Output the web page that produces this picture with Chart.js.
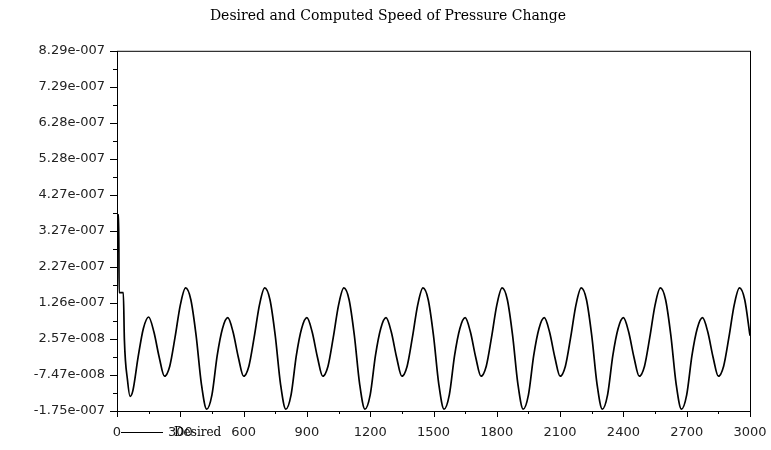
<!DOCTYPE html>
<html>
<head>
<meta charset="utf-8">
<script src="https://cdn.jsdelivr.net/npm/chart.js@4/dist/chart.umd.min.js"></script>
<style>
  html, body { margin: 0; padding: 0; background: #fff; }
  #wrap { width: 771px; height: 450px; }
</style>
</head>
<body>
<div id="wrap"><canvas id="speed-chart" width="771" height="450"></canvas></div>
<script>
// time samples
const timeValues = [
  0, 8, 10, 30, 35, 50, 62, 75,
  100, 125, 150, 175, 200, 225, 250, 275, 300,
  325, 350, 375, 400, 425, 450, 475, 500, 525, 550, 575, 600, 625, 650, 675,
  700, 725, 750, 775, 800, 825, 850, 875, 900, 925, 950, 975, 1000, 1025, 1050,
  1075, 1100, 1125, 1150, 1175, 1200, 1225, 1250, 1275, 1300, 1325, 1350, 1375, 1400, 1425,
  1450, 1475, 1500, 1525, 1550, 1575, 1600, 1625, 1650, 1675, 1700, 1725, 1750, 1775, 1800,
  1825, 1850, 1875, 1900, 1925, 1950, 1975, 2000, 2025, 2050, 2075, 2100, 2125, 2150, 2175,
  2200, 2225, 2250, 2275, 2300, 2325, 2350, 2375, 2400, 2425, 2450, 2475, 2500, 2525, 2550,
  2575, 2600, 2625, 2650, 2675, 2700, 2725, 2750, 2775, 2800, 2825, 2850, 2875, 2900, 2925,
  2950, 2975, 3000,
];

// desired speed, in units of 1e-7
const desiredE7 = [
  3.72, 3.72, 1.55, 1.55, 0.24, -0.90, -1.34, -1.19,
  -0.25, 0.55, 0.87, 0.45, -0.25, -0.78, -0.50, 0.30, 1.20,
  1.68, 1.35, 0.35, -1.00, -1.70, -1.30, -0.20, 0.55, 0.85, 0.45, -0.25, -0.78, -0.50, 0.30, 1.20,
  1.68, 1.35, 0.35, -1.00, -1.70, -1.30, -0.20, 0.55, 0.85, 0.45, -0.25, -0.78, -0.50, 0.30, 1.20,
  1.68, 1.35, 0.35, -1.00, -1.70, -1.30, -0.20, 0.55, 0.85, 0.45, -0.25, -0.78, -0.50, 0.30, 1.20,
  1.68, 1.35, 0.35, -1.00, -1.70, -1.30, -0.20, 0.55, 0.85, 0.45, -0.25, -0.78, -0.50, 0.30, 1.20,
  1.68, 1.35, 0.35, -1.00, -1.70, -1.30, -0.20, 0.55, 0.85, 0.45, -0.25, -0.78, -0.50, 0.30, 1.20,
  1.68, 1.35, 0.35, -1.00, -1.70, -1.30, -0.20, 0.55, 0.85, 0.45, -0.25, -0.78, -0.50, 0.30, 1.20,
  1.68, 1.35, 0.35, -1.00, -1.70, -1.30, -0.20, 0.55, 0.85, 0.45, -0.25, -0.78, -0.50, 0.30, 1.20,
  1.68, 1.35, 0.35,
];

const xTickValues = [0, 300, 600, 900, 1200, 1500, 1800, 2100, 2400, 2700, 3000];
const xTickLabels = ["0", "300", "600", "900", "1200", "1500", "1800", "2100", "2400", "2700", "3000"];

// y ticks in units of 1e-7
const yTickValues = [-1.75, -0.746, 0.258, 1.262, 2.266, 3.27, 4.274, 5.278, 6.282, 7.286, 8.29];
const yTickLabels = [
  "-1.75e-007", "-7.47e-008", "2.57e-008", "1.26e-007", "2.27e-007", "3.27e-007",
  "4.27e-007", "5.28e-007", "6.28e-007", "7.29e-007", "8.29e-007",
];

const seriesName = "Desired";
const chartTitle = "Desired and Computed Speed of Pressure Change";

// box round the plot, plus major / minor tick marks pointing outward
const framePlugin = {
  id: "frame",
  afterDraw: (chart) => {
    const { ctx, chartArea } = chart;
    const xs = chart.scales.x;
    const ys = chart.scales.y;
    ctx.save();
    ctx.strokeStyle = "#000";
    ctx.lineWidth = 1;
    ctx.strokeRect(chartArea.left + 0.5, chartArea.top + 0.5,
      chartArea.right - chartArea.left, chartArea.bottom - chartArea.top);

    ctx.beginPath();
    xTickValues.forEach((v, i) => {
      const px = Math.round(xs.getPixelForValue(v)) + 0.5;
      ctx.moveTo(px, chartArea.bottom);
      ctx.lineTo(px, chartArea.bottom + 6);
      if (i < xTickValues.length - 1) {
        const mx = Math.round(xs.getPixelForValue((v + xTickValues[i + 1]) / 2)) + 0.5;
        ctx.moveTo(mx, chartArea.bottom);
        ctx.lineTo(mx, chartArea.bottom + 3);
      }
    });
    yTickValues.forEach((v, i) => {
      const py = Math.round(ys.getPixelForValue(v)) + 0.5;
      ctx.moveTo(chartArea.left, py);
      ctx.lineTo(chartArea.left - 7, py);
      if (i < yTickValues.length - 1) {
        const my = Math.round(ys.getPixelForValue((v + yTickValues[i + 1]) / 2)) + 0.5;
        ctx.moveTo(chartArea.left, my);
        ctx.lineTo(chartArea.left - 4, my);
      }
    });
    ctx.stroke();

    // legend sample sits on the tick label row, bottom left
    const ly = 432.5;
    ctx.beginPath();
    ctx.moveTo(121, ly);
    ctx.lineTo(163, ly);
    ctx.stroke();
    ctx.fillStyle = "#000";
    ctx.font = "12px 'DejaVu Serif'";
    ctx.textBaseline = "middle";
    ctx.textAlign = "left";
    ctx.fillText(chart.data.datasets[0].label, 174, ly);
    ctx.restore();
  },
};

const points = timeValues.map((t, i) => ({ x: t, y: desiredE7[i] }));

new Chart(document.getElementById("speed-chart"), {
  type: "line",
  data: {
    datasets: [
      {
        label: seriesName,
        data: points,
        borderColor: "#000",
        borderWidth: 1.7,
        pointRadius: 0,
        cubicInterpolationMode: "monotone",
        fill: false,
      },
    ],
  },
  options: {
    responsive: false,
    animation: false,
    layout: { padding: { left: 16, right: 11, top: 0, bottom: 0 } },
    plugins: {
      legend: { display: false },
      tooltip: { enabled: false },
      title: {
        display: true,
        text: chartTitle,
        color: "#000",
        font: { family: "'DejaVu Serif'", size: 14, weight: "normal" },
        padding: { top: 8, bottom: 26 },
      },
    },
    scales: {
      x: {
        type: "linear",
        min: 0,
        max: 3000,
        grid: { display: false, drawTicks: false },
        border: { display: false },
        afterBuildTicks: (scale) => {
          scale.ticks = xTickValues.map((v) => ({ value: v }));
        },
        afterFit: (scale) => {
          scale.height = 39;
          scale.paddingLeft = 0;
          scale.paddingRight = 21;
        },
        ticks: {
          autoSkip: false,
          maxRotation: 0,
          padding: 14,
          color: "#222",
          font: { family: "'DejaVu Sans'", size: 13 },
          callback: (value, index) => xTickLabels[index],
        },
      },
      y: {
        min: -1.75,
        max: 8.29,
        grid: { display: false, drawTicks: false },
        border: { display: false },
        afterBuildTicks: (scale) => {
          scale.ticks = yTickValues.map((v) => ({ value: v }));
        },
        afterFit: (scale) => {
          scale.width = 101;
        },
        ticks: {
          autoSkip: false,
          padding: 12,
          color: "#222",
          font: { family: "'DejaVu Sans'", size: 13 },
          callback: (value, index) => yTickLabels[index],
        },
      },
    },
  },
  plugins: [framePlugin],
});
</script>
</body>
</html>
